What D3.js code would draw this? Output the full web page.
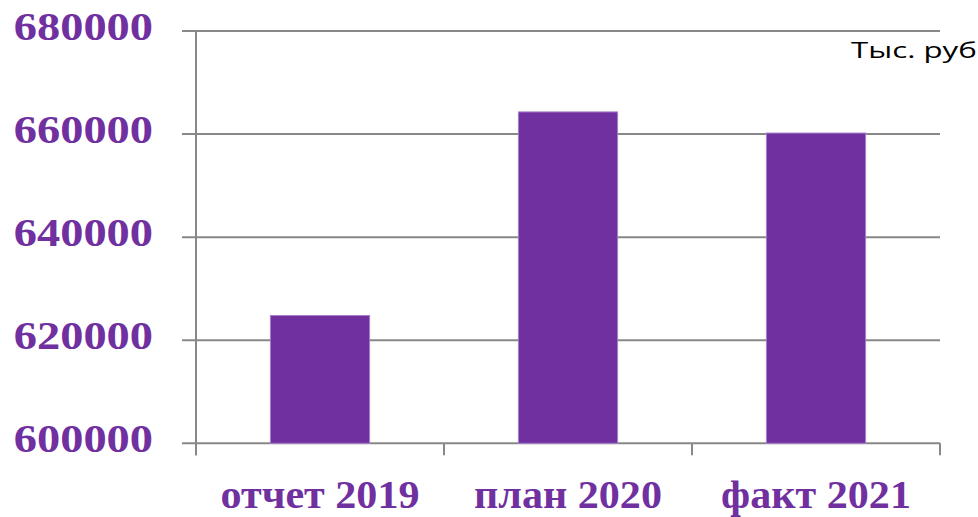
<!DOCTYPE html>
<html>
<head>
<meta charset="utf-8">
<script src="https://cdn.jsdelivr.net/npm/d3@7"></script>
<style>
  html, body { margin: 0; padding: 0; background: #fff; overflow: hidden; }
  svg { display: block; }
</style>
</head>
<body>
<svg id="chart" width="978" height="517"></svg>
<script>
// data
var categories = ["отчет 2019", "план 2020", "факт 2021"];
var values = [624800, 664300, 660200];
var yTicks = [600000, 620000, 640000, 660000, 680000];
var unitLabel = "Тыс. руб.";

var svg = d3.select("#chart"),
    width = +svg.attr("width"),
    height = +svg.attr("height");

var plotLeft = 196, plotRight = 940, plotTop = 31, plotBottom = 443.3;
var purple = "#7030a0", grid = "#888888";

var x = d3.scaleBand()
  .domain(categories)
  .range([plotLeft, plotRight])
  .paddingInner(0.6)
  .paddingOuter(0.3);

var y = d3.scaleLinear()
  .domain([600000, 680000])
  .range([plotBottom, plotTop]);

// gridlines
svg.append("g")
  .selectAll("line")
  .data(yTicks)
  .enter().append("line")
  .attr("x1", plotLeft - 14)
  .attr("x2", plotRight)
  .attr("y1", function(d) { return y(d); })
  .attr("y2", function(d) { return y(d); })
  .attr("stroke", grid)
  .attr("stroke-width", 2);

// bars
svg.append("g")
  .selectAll("rect")
  .data(values)
  .enter().append("rect")
  .attr("x", function(d, i) { return x(categories[i]); })
  .attr("y", function(d) { return y(d); })
  .attr("width", x.bandwidth())
  .attr("height", function(d) { return plotBottom - y(d); })
  .attr("fill", purple)
  .attr("stroke", "#a77fcb")
  .attr("stroke-width", 1);

// y axis labels
var yStretch = 1.19;
var yAxis = svg.append("g")
  .attr("transform", "translate(" + plotLeft + ",0)")
  .call(d3.axisLeft(y).tickValues(yTicks).tickFormat(d3.format("d")).tickSize(0));
yAxis.select(".domain").remove();
yAxis.selectAll("text")
  .attr("x", -43 / yStretch)
  .attr("dy", "0.32em")
  .attr("y", -4)
  .attr("transform", "scale(" + yStretch + ",1)")
  .attr("fill", purple)
  .style("font-family", "'Liberation Serif', 'Times New Roman', serif")
  .style("font-weight", "bold")
  .style("font-size", "39px");

// vertical axis line
svg.append("line")
  .attr("x1", plotLeft).attr("x2", plotLeft)
  .attr("y1", plotTop).attr("y2", plotBottom + 12)
  .attr("stroke", grid)
  .attr("stroke-width", 2);

// category boundary ticks
svg.append("g")
  .selectAll("line")
  .data(d3.range(categories.length + 1))
  .enter().append("line")
  .attr("x1", function(i) { return plotLeft + i * x.step(); })
  .attr("x2", function(i) { return plotLeft + i * x.step(); })
  .attr("y1", plotBottom)
  .attr("y2", plotBottom + 12)
  .attr("stroke", grid)
  .attr("stroke-width", 2);

// x axis labels
var xStretch = 1.08;
var xAxis = svg.append("g")
  .attr("transform", "translate(0," + plotBottom + ")")
  .call(d3.axisBottom(x).tickSize(0));
xAxis.select(".domain").remove();
xAxis.selectAll("text")
  .attr("y", 65)
  .attr("dy", 0)
  .attr("x", 0)
  .attr("transform", "scale(" + xStretch + ",1)")
  .attr("fill", purple)
  .style("font-family", "'Liberation Serif', 'Times New Roman', serif")
  .style("font-weight", "bold")
  .style("font-size", "39px");

// unit label
svg.append("text")
  .attr("transform", "translate(851,58.3) scale(1.42,1)")
  .attr("fill", "#000")
  .style("font-family", "'Open Sans', sans-serif")
  .style("font-size", "22px")
  .text(unitLabel);
</script>
</body>
</html>
